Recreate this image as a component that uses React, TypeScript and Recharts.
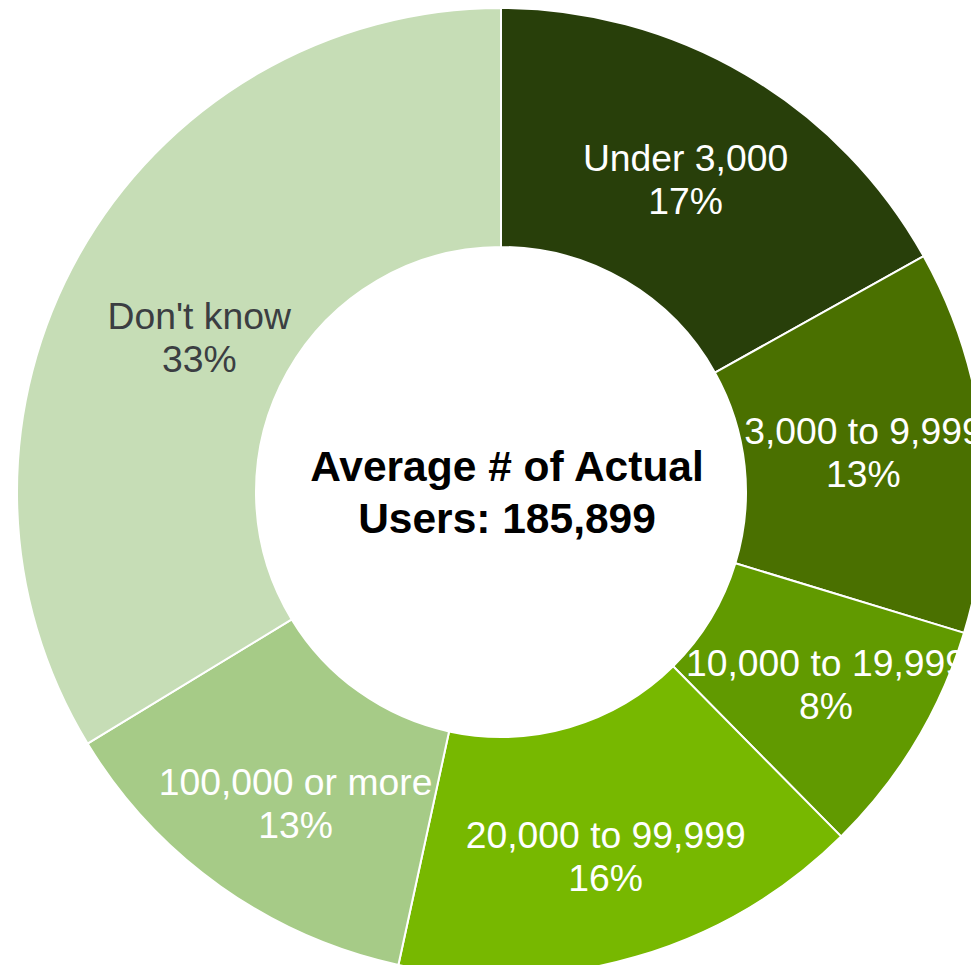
import React from "react";
import { PieChart, Pie, Cell } from "recharts";

const categories = [
  "Under 3,000",
  "3,000 to 9,999",
  "10,000 to 19,999",
  "20,000 to 99,999",
  "100,000 or more",
  "Don't know",
];
const shares = [16.9, 12.8, 7.9, 15.8, 12.9, 33.7];
const percentLabels = ["17%", "13%", "8%", "16%", "13%", "33%"];
const colors = ["#283f0a", "#4a7000", "#619a00", "#77b800", "#a6cb87", "#c6ddb6"];
const labelColors = ["#ffffff", "#ffffff", "#ffffff", "#ffffff", "#ffffff", "#3b3e42"];
const centerLines = ["Average # of Actual", "Users: 185,899"];
// small label nudges (style only), in px
const labelNudgeX = [0, 0, 13, 3, 6, 16];
const labelNudgeY = [2, 0, 5, 15, 15, 25];

const data = categories.map((name, i) => ({ name, value: shares[i], pct: percentLabels[i] }));

const RADIAN = Math.PI / 180;
const FONT = "'Liberation Sans', Arial, sans-serif";

const renderLabel = (props: any) => {
  const { cx, cy, midAngle, innerRadius, outerRadius, index, name } = props;
  const r = (innerRadius + outerRadius) / 2;
  const x = cx + r * Math.cos(-midAngle * RADIAN) + labelNudgeX[index];
  const y = cy + r * Math.sin(-midAngle * RADIAN) + labelNudgeY[index];
  return (
    <text
      x={x}
      y={y}
      textAnchor="middle"
      fill={labelColors[index]}
      fontFamily={FONT}
      fontSize={37.3}
    >
      <tspan x={x} dy={-9}>{name}</tspan>
      <tspan x={x} dy={43}>{data[index].pct}</tspan>
    </text>
  );
};

export default function App() {
  return (
    <div style={{ position: "relative", width: 971, height: 957, overflow: "hidden" }}>
      <PieChart width={971} height={957}>
        <Pie
          data={data}
          dataKey="value"
          nameKey="name"
          cx={488}
          cy={479}
          innerRadius={245}
          outerRadius={484}
          startAngle={90}
          endAngle={-270}
          stroke="#ffffff"
          strokeWidth={2}
          label={renderLabel}
          labelLine={false}
          isAnimationActive={false}
        >
          {data.map((d, i) => (
            <Cell key={d.name} fill={colors[i]} />
          ))}
        </Pie>
      </PieChart>
      <div
        style={{
          position: "absolute",
          left: 499 - 250,
          top: 485 - 60,
          width: 500,
          height: 120,
          display: "flex",
          flexDirection: "column",
          alignItems: "center",
          justifyContent: "center",
          fontFamily: FONT,
          fontWeight: "bold",
          fontSize: 42.5,
          lineHeight: "52px",
          color: "#000000",
          textAlign: "center",
          pointerEvents: "none",
        }}
      >
        {centerLines.map((t) => (
          <div key={t}>{t}</div>
        ))}
      </div>
    </div>
  );
}
